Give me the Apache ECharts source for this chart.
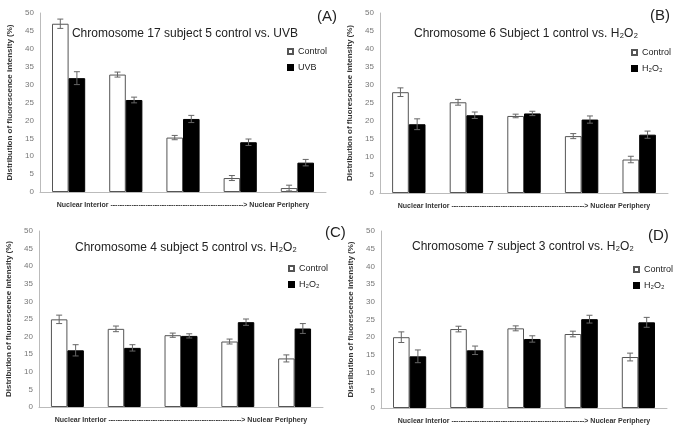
<!DOCTYPE html>
<html lang="en">
<head>
    <meta charset="UTF-8">
    <title>Chromosome fluorescence distribution</title>
    <script src="https://cdn.jsdelivr.net/npm/echarts@6/dist/echarts.min.js"></script>
    <style>
        html, body { margin: 0; padding: 0; background: #fff; }
    </style>
</head>
<body>
<div id="chart" style="width: 683px;height: 434px"></div>
<script type="text/javascript">
    // five shells from the nuclear interior to the periphery
    var shells = ['1', '2', '3', '4', '5'];

    var titles = [
        'Chromosome 17 subject 5 control vs. UVB',
        'Chromosome 6 Subject 1 control vs. H₂O₂',
        'Chromosome 4 subject 5 control vs. H₂O₂',
        'Chromosome 7 subject 3 control vs. H₂O₂'
    ];
    var panelLabels = ['(A)', '(B)', '(C)', '(D)'];
    var treatNames = ['UVB', 'H₂O₂', 'H₂O₂', 'H₂O₂'];

    var controlA = [47.0, 32.8, 15.2, 3.9, 1.1];
    var controlErrA = [1.3, 0.7, 0.6, 0.7, 0.8];
    var treatA = [31.8, 25.7, 20.4, 13.9, 8.2];
    var treatErrA = [1.8, 0.8, 1.0, 0.9, 0.9];

    var controlB = [28.0, 25.2, 21.4, 15.8, 9.3];
    var controlErrB = [1.2, 0.8, 0.5, 0.7, 0.9];
    var treatB = [19.1, 21.6, 22.1, 20.4, 16.2];
    var treatErrB = [1.5, 0.9, 0.6, 1.0, 1.0];

    var controlC = [24.9, 22.2, 20.4, 18.6, 13.8];
    var controlErrC = [1.2, 0.8, 0.6, 0.7, 1.0];
    var treatC = [16.1, 16.8, 20.2, 24.1, 22.3];
    var treatErrC = [1.6, 0.9, 0.6, 0.9, 1.4];

    var controlD = [20.0, 22.3, 22.5, 20.9, 14.4];
    var controlErrD = [1.5, 0.8, 0.7, 0.8, 1.1];
    var treatD = [14.6, 16.3, 19.5, 25.1, 24.2];
    var treatErrD = [1.8, 1.2, 0.9, 1.1, 1.4];

    var panels = [
        {control: controlA, controlErr: controlErrA, treat: treatA, treatErr: treatErrA},
        {control: controlB, controlErr: controlErrB, treat: treatB, treatErr: treatErrB},
        {control: controlC, controlErr: controlErrC, treat: treatC, treatErr: treatErrC},
        {control: controlD, controlErr: controlErrD, treat: treatD, treatErr: treatErrD}
    ];

    // layout of the four plot areas
    var grids = [
        {left: 40, right: 357, top: 13, bottom: 242},
        {left: 380, right: 15, top: 13, bottom: 241},
        {left: 39, right: 360, top: 231, bottom: 27},
        {left: 381, right: 16, top: 231, bottom: 26}
    ];
    var titlePos = [
        {x: 185, y: 28}, {x: 526, y: 28}, {x: 186, y: 242}, {x: 523, y: 241}
    ];
    var labelPos = [
        {x: 317, y: 9}, {x: 650, y: 8}, {x: 325, y: 225}, {x: 648, y: 228}
    ];
    var legendPos = [
        {x: 287, y: 47}, {x: 631, y: 48}, {x: 288, y: 264}, {x: 633, y: 265}
    ];

    var BAR_FRAC = 0.29;
    var xName = 'Nuclear Interior ---------------------------------------------------------> Nuclear Periphery';

    function errorBarRenderer(side) {
        return function (params, api) {
            var idx = api.value(0),
                val = api.value(1),
                err = api.value(2),
                band = api.size([1, 0])[0],
                off = side * band * BAR_FRAC / 2,
                hi = api.coord([idx, val + err]),
                lo = api.coord([idx, val - err]),
                x = hi[0] + off,
                cap = 3,
                style = {stroke: '#666', lineWidth: 1};
            return {
                type: 'group',
                children: [
                    {type: 'line', shape: {x1: x, y1: hi[1], x2: x, y2: lo[1]}, style: style},
                    {type: 'line', shape: {x1: x - cap, y1: hi[1], x2: x + cap, y2: hi[1]}, style: style},
                    {type: 'line', shape: {x1: x - cap, y1: lo[1], x2: x + cap, y2: lo[1]}, style: style}
                ]
            };
        };
    }

    var option = {
        animation: false,
        backgroundColor: '#fff',
        title: [],
        legend: [],
        grid: [],
        xAxis: [],
        yAxis: [],
        series: []
    };

    panels.forEach(function (p, i) {
        option.grid.push(grids[i]);
        option.title.push({
            text: titles[i], left: titlePos[i].x, top: titlePos[i].y, textAlign: 'center', padding: 0,
            textStyle: {fontFamily: 'Liberation Sans', fontSize: 12, fontWeight: 'normal', color: '#222'}
        });
        option.title.push({
            text: panelLabels[i], left: labelPos[i].x, top: labelPos[i].y, padding: 0,
            textStyle: {fontFamily: 'Liberation Sans', fontSize: 15, fontWeight: 'normal', color: '#222'}
        });
        option.legend.push({
            data: ['Control', treatNames[i]], padding: 0,
            orient: 'vertical', left: legendPos[i].x, top: legendPos[i].y,
            itemWidth: 5, itemHeight: 5, itemGap: 7, icon: 'rect',
            textStyle: {fontFamily: 'Liberation Sans', fontSize: 9, color: '#222'}
        });
        option.xAxis.push({
            type: 'category', gridIndex: i, data: shells,
            name: xName, nameLocation: 'middle', nameGap: 10,
            nameTextStyle: {fontFamily: 'Liberation Sans', fontSize: 7, fontWeight: 'bold', color: '#333'},
            axisLine: {lineStyle: {color: '#bbb'}},
            axisTick: {show: false},
            axisLabel: {show: false}
        });
        option.yAxis.push({
            type: 'value', gridIndex: i, min: 0, max: 50, interval: 5,
            name: 'Distribution of fluorescence intensity (%)', nameLocation: 'middle', nameGap: 26,
            nameTextStyle: {fontFamily: 'Liberation Sans', fontSize: 8, fontWeight: 'bold', color: '#333'},
            axisLine: {show: true, lineStyle: {color: '#bbb'}},
            axisTick: {show: false},
            splitLine: {show: false},
            axisLabel: {fontFamily: 'Liberation Sans', fontSize: 8, color: '#777', margin: 6}
        });
        option.series.push({
            name: 'Control', type: 'bar', xAxisIndex: i, yAxisIndex: i,
            data: p.control, barWidth: (BAR_FRAC * 100) + '%', barGap: '0%',
            itemStyle: {color: '#fff', borderColor: '#555', borderWidth: 1}
        });
        option.series.push({
            name: treatNames[i], type: 'bar', xAxisIndex: i, yAxisIndex: i,
            data: p.treat, barWidth: (BAR_FRAC * 100) + '%', barGap: '0%',
            itemStyle: {color: '#000', borderColor: '#000', borderWidth: 1}
        });
        option.series.push({
            name: 'errControl' + i, type: 'custom', xAxisIndex: i, yAxisIndex: i,
            renderItem: errorBarRenderer(-1), z: 5,
            encode: {x: 0, y: 1},
            data: p.control.map(function (v, k) { return [k, v, p.controlErr[k]]; })
        });
        option.series.push({
            name: 'errTreat' + i, type: 'custom', xAxisIndex: i, yAxisIndex: i,
            renderItem: errorBarRenderer(1), z: 5,
            encode: {x: 0, y: 1},
            data: p.treat.map(function (v, k) { return [k, v, p.treatErr[k]]; })
        });
    });

    var chart = echarts.init(document.getElementById('chart'));
    chart.setOption(option);
</script>
</body>
</html>
